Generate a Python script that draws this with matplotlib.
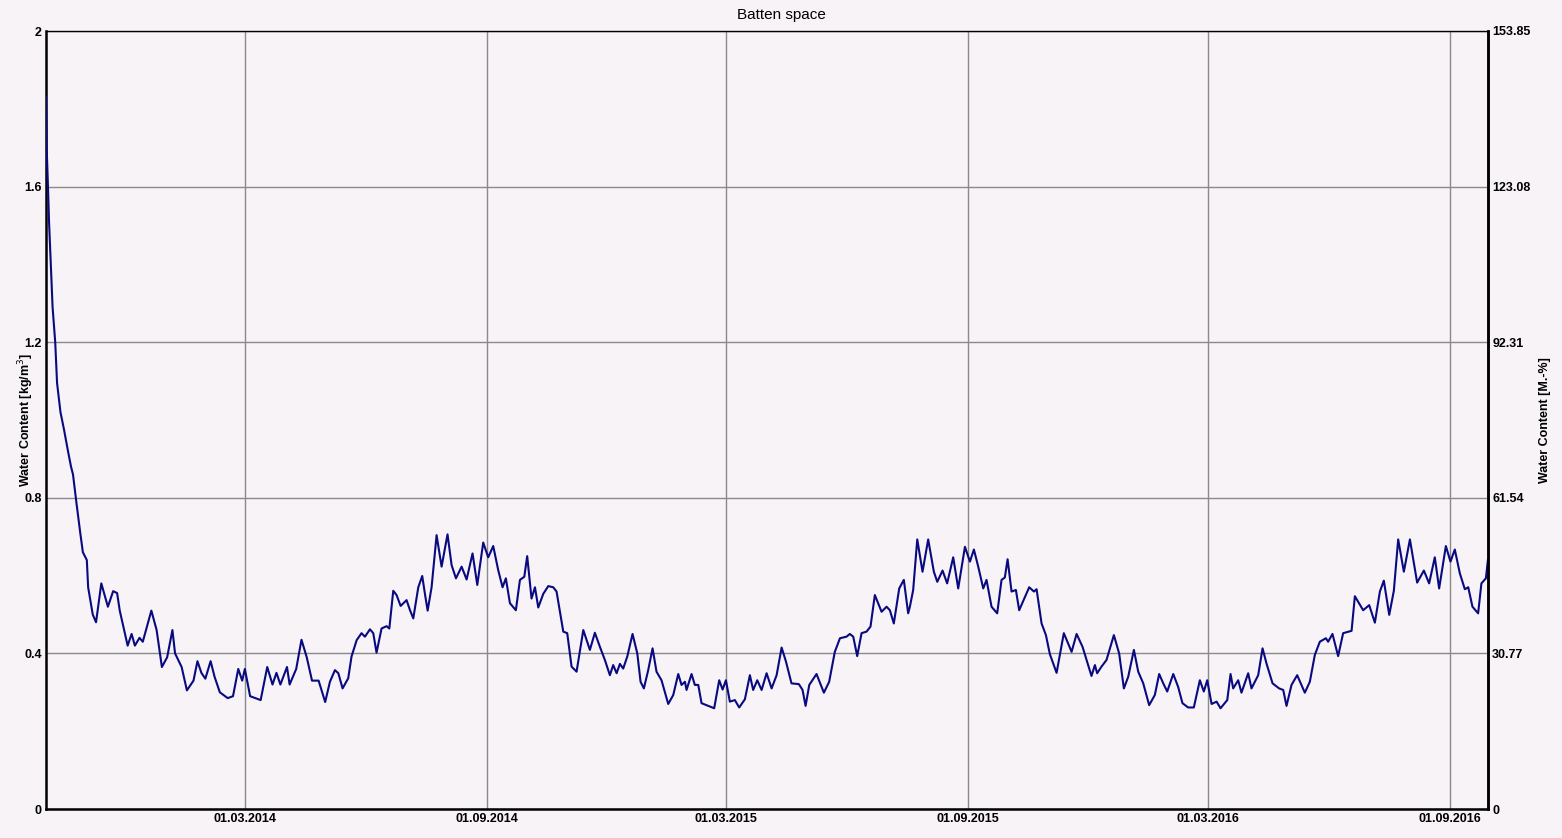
import numpy as np
import matplotlib
matplotlib.use("Agg")
import matplotlib.pyplot as plt
import matplotlib.dates as mdates
from matplotlib.ticker import FixedLocator, FuncFormatter

START = "2013-10-01"
END = "2016-09-30"

# day offset from START, water content [kg/m3]
days = [
    0, 0.5, 1.5, 2.3, 3.5, 5, 7, 8.4, 11, 13.7, 16.7, 19, 20.5, 23, 26, 28, 31, 32,
    35.5, 38, 42, 47, 51, 54, 56, 62, 65, 67.5, 71, 73.5, 80, 84, 88, 92, 96, 98,
    103, 107, 112, 115, 118, 121, 125, 128, 132, 138, 142, 146, 149, 151, 155, 163,
    168, 172, 175, 178, 183, 185, 190, 194, 198, 202, 207, 212,
    215.6, 219.4, 222, 225.2, 229.5, 232, 235.9, 239.6, 242.2, 246, 248.5, 251,
    254.8, 258.6, 260.7, 263.7, 266.2, 269.3, 273.8, 276.3, 278.9, 282.7, 285.7,
    287.7, 289.8, 292.8, 296.6, 300.4, 304.9, 308, 311.3, 315.6, 319.4, 323.9,
    327.5, 332, 335.8, 339.6, 343.4, 346.7, 349.2, 352.3, 356.8, 359.9, 363.2,
    365.4, 368.7, 371.3, 373.8, 377.6, 381.4, 385.2, 387.7, 392.8, 395.8, 399.1,
    402.9, 408, 413, 416.8, 420.6, 424.4, 428.2, 430.7, 433.3, 435.8,
    438.3, 441.4, 445.4, 449, 451.5, 454, 457.3, 460.6, 463.6, 467.4, 472.5,
    476.3, 480.1, 482.6, 485.2, 486.4, 490.2, 492.7, 495.3, 497.8, 502.9, 507.4,
    511.2, 513.8, 516.3, 519.3, 523.1, 526.4, 530.7, 534.5, 537, 540.1, 543.4,
    547.2, 551, 554.8, 558.6, 561.9, 566.1, 571.7, 574.5, 576.8, 579.6, 585.1,
    590.7, 594.7, 599, 602.9, 607.9, 610.4, 613, 616, 619.3, 623.1, 626.1, 629.4,
    634.5, 638.3, 640.8, 643.8, 647.9, 651.4, 654.7, 656,
    658.5, 661.6, 665.6, 669.9, 674.2, 676.8, 680.8, 684.3, 688.9, 692.7, 697.8,
    701.6, 704.6, 707.9, 711.7, 714.2, 718, 722.3, 725.6, 728.1, 730.2, 733.2,
    736.5, 739, 743.3, 746.6, 750.2, 752.2, 756, 759.3, 762.3, 767.4, 772.9,
    778.8, 782.6, 787.1, 793.9, 796.5, 798.2, 801.5, 805.3, 810.9, 814.9, 818.5,
    821.8, 826.1, 829.4, 833.2, 837.7, 842, 845.3, 848.4, 851.4, 856, 859.7, 863,
    867.3, 871.6, 876.2,
    879.2, 881.8, 885.1, 888.9, 891.9, 897, 899.5, 901.5, 905.3, 907.8, 912.9,
    915.4, 920.5, 923.8, 926.8, 931.4, 936.4, 939.5, 942, 945.8, 950.1, 955.9,
    959.7, 963.5, 967.3, 971.9, 973.6, 976.9, 981.2, 985, 991.4, 993.9, 1000.2,
    1004.8, 1009.1, 1012.9, 1015.9, 1020, 1023.5, 1026.8, 1031.1, 1035.7, 1041.2,
    1046.3, 1050.3, 1054.6, 1057.9, 1063, 1066.5, 1069.8, 1073.6, 1077.4, 1080,
    1083.2, 1087.5, 1090, 1093.4, 1095,
]
water = [
    1.83, 1.70, 1.60, 1.51, 1.41, 1.29, 1.20, 1.095, 1.02, 0.975, 0.92, 0.88, 0.86,
    0.79, 0.71, 0.66, 0.64, 0.57, 0.50, 0.48, 0.58, 0.52, 0.56, 0.555, 0.51, 0.42,
    0.45, 0.42, 0.44, 0.43, 0.51, 0.46, 0.365, 0.39, 0.46, 0.40, 0.365, 0.305, 0.33,
    0.38, 0.35, 0.335, 0.38, 0.34, 0.30, 0.285, 0.29, 0.36, 0.33, 0.36, 0.29, 0.28,
    0.365, 0.32, 0.35, 0.32, 0.365, 0.32, 0.36, 0.435, 0.39, 0.33, 0.33, 0.275,
    0.327, 0.357, 0.349, 0.310, 0.336, 0.392, 0.434, 0.452, 0.443, 0.462, 0.452,
    0.402, 0.464, 0.470, 0.464, 0.561, 0.550, 0.522, 0.537, 0.512, 0.490, 0.570,
    0.599, 0.554, 0.510, 0.570, 0.704, 0.623, 0.706, 0.627, 0.593, 0.623, 0.590,
    0.657, 0.576, 0.685, 0.647, 0.676, 0.614, 0.570, 0.593, 0.529, 0.511, 0.589,
    0.597, 0.650, 0.541, 0.570, 0.518, 0.553, 0.573, 0.570, 0.559, 0.456, 0.452,
    0.366, 0.353, 0.460, 0.409, 0.453, 0.417, 0.383, 0.344, 0.370, 0.349, 0.373,
    0.361, 0.392, 0.450, 0.400, 0.327, 0.310, 0.357, 0.413, 0.353, 0.331, 0.270,
    0.293, 0.347, 0.319, 0.327, 0.306, 0.347, 0.319, 0.319, 0.272, 0.265, 0.259,
    0.331, 0.307, 0.331, 0.276, 0.280, 0.261, 0.282, 0.344, 0.306, 0.331, 0.306,
    0.349, 0.310, 0.344, 0.415, 0.379, 0.323, 0.321, 0.306, 0.265, 0.319, 0.347,
    0.299, 0.327, 0.404, 0.439, 0.443, 0.450, 0.443, 0.393, 0.452, 0.456, 0.469,
    0.550, 0.507, 0.520, 0.511, 0.477, 0.567, 0.589, 0.503, 0.520,
    0.563, 0.693, 0.610, 0.693, 0.610, 0.584, 0.613, 0.580, 0.647, 0.567, 0.674,
    0.636, 0.667, 0.623, 0.567, 0.589, 0.520, 0.503, 0.589, 0.595, 0.642, 0.559,
    0.563, 0.511, 0.544, 0.570, 0.559, 0.565, 0.477, 0.447, 0.398, 0.350, 0.452,
    0.404, 0.450, 0.417, 0.342, 0.370, 0.349, 0.366, 0.383, 0.447, 0.400, 0.310,
    0.340, 0.409, 0.353, 0.323, 0.267, 0.293, 0.347, 0.323, 0.302, 0.347, 0.314,
    0.272, 0.261, 0.261, 0.331,
    0.302, 0.331, 0.270, 0.276, 0.259, 0.280, 0.347, 0.310, 0.331, 0.299, 0.349,
    0.310, 0.344, 0.413, 0.374, 0.323, 0.310, 0.306, 0.265, 0.319, 0.344, 0.299,
    0.327, 0.396, 0.430, 0.439, 0.430, 0.450, 0.393, 0.452, 0.458, 0.547, 0.511,
    0.524, 0.479, 0.559, 0.587, 0.499, 0.561, 0.693, 0.610, 0.693, 0.582, 0.613,
    0.580, 0.647, 0.567, 0.676, 0.636, 0.667, 0.606, 0.565, 0.570, 0.520, 0.503,
    0.580, 0.593, 0.642,
]

tick_dates = ["2014-03-01", "2014-09-01", "2015-03-01", "2015-09-01", "2016-03-01", "2016-09-01"]
left_ticks = [0, 0.4, 0.8, 1.2, 1.6, 2]
mass_per_kg = 153.85 / 2  # M.-% per kg/m3

BG = "#f7f3f7"
plt.rcParams["font.family"] = ["Liberation Sans", "DejaVu Sans"]

fig = plt.figure(figsize=(15.62, 8.38), dpi=100, facecolor=BG)
ax = fig.add_axes([46 / 1562, 29 / 838, 1442 / 1562, 778 / 838], facecolor=BG)

t0 = mdates.datestr2num(START)
x = t0 + np.array(days)
ax.plot(x, water, color="#0a0a80", lw=1.5, zorder=3)

ax.set_xlim(t0, mdates.datestr2num(END))
ax.set_ylim(0, 2)
ax.xaxis.set_major_locator(FixedLocator(mdates.datestr2num(tick_dates)))
ax.xaxis.set_major_formatter(mdates.DateFormatter("%d.%m.%Y"))
ax.set_yticks(left_ticks)
ax.yaxis.set_major_formatter(FuncFormatter(lambda v, p: "%g" % v))
ax.grid(True, color="#8a8a8a", lw=1.0, zorder=1)
ax.tick_params(length=0, labelsize=9, pad=3)
for lab in ax.get_xticklabels() + ax.get_yticklabels():
    lab.set_fontweight("bold")
ax.set_ylabel("Water Content [kg/m$^3$]", fontsize=9, fontweight="bold")
ax.yaxis.set_label_coords(-10 / 1442, 0.5)

for s in ("left", "bottom"):
    ax.spines[s].set_linewidth(1.8)
ax.spines["top"].set_linewidth(1.0)
ax.spines["right"].set_linewidth(1.8)

ax2 = ax.twinx()
ax2.set_ylim(0, 2 * mass_per_kg)
ax2.set_yticks([v * mass_per_kg for v in left_ticks])
ax2.yaxis.set_major_formatter(FuncFormatter(lambda v, p: "%g" % round(v, 2)))
ax2.tick_params(length=0, labelsize=9, pad=3)
for lab in ax2.get_yticklabels():
    lab.set_fontweight("bold")
ax2.spines["right"].set_linewidth(1.8)
ax2.spines["left"].set_visible(False)
ax2.spines["top"].set_visible(False)
ax2.spines["bottom"].set_visible(False)
ax2.set_ylabel("Water Content [M.-%]", fontsize=9, fontweight="bold")
ax2.yaxis.set_label_coords(1 + 51 / 1442, 0.5)

fig.text(0.5, 1 - 15 / 838, "Batten space", ha="center", va="center", fontsize=11)

fig.savefig("out.png", dpi=100, facecolor=BG)
